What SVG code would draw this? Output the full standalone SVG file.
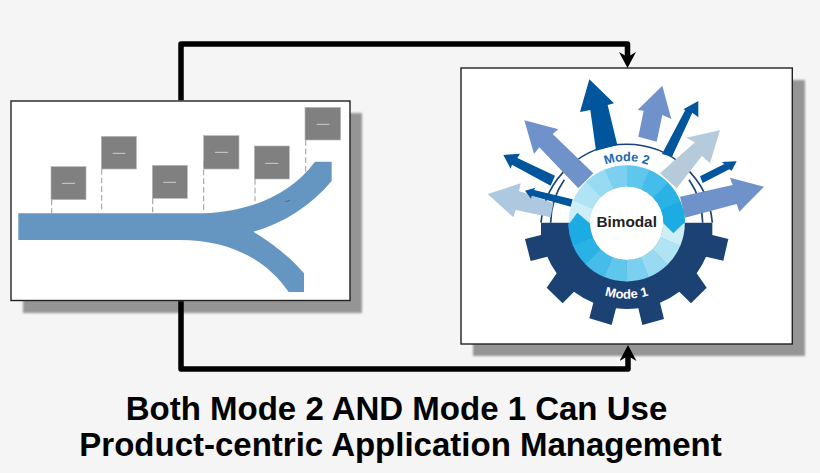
<svg xmlns="http://www.w3.org/2000/svg" width="820" height="473" viewBox="0 0 820 473">
<defs>
<style>
.panel{fill:#fff;stroke:#222;stroke-width:1.4}
.shadow{fill:#959595;filter:url(#soft)}
.flag{fill:#808080;stroke:#b8b8b8;stroke-width:2}
.stem{fill:none;stroke:#a8a8a8;stroke-width:3.5;stroke-dasharray:17 9}
.tick{stroke:#dcdcdc;stroke-width:2.500}
.conn{fill:none;stroke:#000;stroke-width:5.5;stroke-linejoin:round;stroke-linecap:butt}
.seg{fill:none;stroke-width:65;stroke-dasharray:23 337}
.d{fill:#02549c}.m{fill:#7092ca}.l{fill:#b5cbdb}.p{fill:#aec8e0}
.arc{fill:none;stroke:#1a4273;stroke-width:5}
text{font-family:"Liberation Sans",Arial,sans-serif;font-weight:700}
</style>
<filter id="soft" x="-5%" y="-5%" width="110%" height="110%"><feGaussianBlur stdDeviation="1"/></filter>
<filter id="fine" x="-2%" y="-2%" width="104%" height="104%"><feGaussianBlur stdDeviation="1.200"/></filter>
<marker id="head" markerUnits="userSpaceOnUse" viewBox="0 0 16 17" refX="5" refY="8.5" markerWidth="16" markerHeight="17" orient="auto"><polygon points="16,8.5 0,0 5,8.5 0,17" fill="#000"/></marker>
<path id="m2" d="M313 490A187 187 0 0 1 687 490"/>
<path id="m1" d="M274 490A226 226 0 0 0 726 490"/>
</defs>
<rect width="820" height="473" fill="#f5f5f5"/>
<g id="roadmap">
<rect class="shadow" x="23" y="113" width="339" height="200"/>
<rect class="panel" x="11" y="101" width="339" height="199.500"/>
<g transform="translate(0 95) scale(.33333)" filter="url(#fine)">
<path d="M55 355H610C760 350 880 290 945 200H995V258C930 335 850 385 760 410C810 440 870 485 912 535V591H866C790 480 670 435 540 435H55Z" fill="#6596c1"/>
<path d="M855 320L870 316" stroke="#3a6ea5" stroke-width="3"/>
<g id="flag1"><path class="stem" d="M155 314V355"/><rect class="flag" x="153" y="215" width="105" height="99"/><path class="tick" d="M186 265H225"/></g>
<g id="flag2"><path class="stem" d="M305 222V352"/><rect class="flag" x="304" y="124" width="105" height="98"/><path class="tick" d="M338 175H376"/></g>
<g id="flag3"><path class="stem" d="M458 310V352"/><rect class="flag" x="457" y="211" width="105" height="99"/><path class="tick" d="M490 262H528"/></g>
<g id="flag4"><path class="stem" d="M611 198V352"/><rect class="flag" x="611" y="122" width="106" height="100"/><path class="tick" d="M645 172H684"/></g>
<g id="flag5"><path class="stem" d="M765 252V318"/><rect class="flag" x="763" y="153" width="105" height="99"/><path class="tick" d="M796 205H835"/></g>
<g id="flag6"><path class="stem" d="M917 135V235"/><rect class="flag" x="915" y="37" width="107" height="98"/><path class="tick" d="M950 88H988"/></g>
</g>
</g>
<g id="bimodal">
<rect class="shadow" x="473" y="80" width="332" height="276"/>
<rect class="panel" x="461" y="68" width="331.300" height="276"/>
<g transform="translate(460 60) scale(.33333)">
<g filter="url(#fine)">
<path class="arc" d="M243 488A258 258 0 0 1 757 488"/>
<path class="arc" d="M272 488A228 228 0 0 1 313 359"/>
<path class="arc" d="M728 488A228 228 0 0 0 687 359"/>
<path fill="#1a4273" d="M243 488V525L195 537L212 603L262 590A258 258 0 0 0 290 640L260 683L308 730L342 695A258 258 0 0 0 400 728L388 775L455 795L468 745A258 258 0 0 0 535 745L547 795L612 777L600 728A258 258 0 0 0 658 695L693 730L740 683L710 640A258 258 0 0 0 738 590L790 602L805 537L757 525V488Z"/>
<polygon class="d" points="388,58 462,130 443,135 472,255 408,272 391,150 360,156"/>
<polygon class="m" points="607,77 634,177 607,165 590,245 535,230 551,152 533,150"/>
<polygon class="d" points="715,123 715,172 697,158 636,290 606,282 676,150 670,148"/>
<polygon class="l" points="780,211 750,310 726,288 650,385 600,340 705,247 678,233"/>
<polygon class="d" points="830,304 815,332 808,328 728,369 720,349 793,312 785,306"/>
<polygon class="m" points="912,380 838,455 830,432 675,473 660,410 818,375 810,353"/>
<polygon class="m" points="193,181 295,208 278,222 400,340 355,385 238,262 222,282"/>
<polygon class="d" points="130,285 180,281 172,294 285,347 272,377 156,314 152,326"/>
<polygon class="p" points="83,402 182,370 177,393 280,430 272,472 167,450 160,472"/>
<polygon class="d" points="195,392 226,383 222,390 338,418 332,440 215,407 213,416"/>
<g transform="translate(500 490)">
<circle class="seg" r="142" pathLength="360" stroke="#cdeef7" stroke-dashoffset="-180"/>
<circle class="seg" r="142" pathLength="360" stroke="#b0e3f3" stroke-dashoffset="-202.500"/>
<circle class="seg" r="142" pathLength="360" stroke="#97daf1" stroke-dashoffset="-225"/>
<circle class="seg" r="142" pathLength="360" stroke="#7bd0ef" stroke-dashoffset="-247.500"/>
<circle class="seg" r="142" pathLength="360" stroke="#5fc6ec" stroke-dashoffset="-270"/>
<circle class="seg" r="142" pathLength="360" stroke="#45bce9" stroke-dashoffset="-292.500"/>
<circle class="seg" r="142" pathLength="360" stroke="#2cb2e6" stroke-dashoffset="-315"/>
<circle class="seg" r="142" pathLength="360" stroke="#1eabe2" stroke-dashoffset="-337.500"/>
<circle class="seg" r="142" pathLength="360" stroke="#cdeef7" stroke-dashoffset="0"/>
<circle class="seg" r="142" pathLength="360" stroke="#b0e3f3" stroke-dashoffset="-22.500"/>
<circle class="seg" r="142" pathLength="360" stroke="#97daf1" stroke-dashoffset="-45"/>
<circle class="seg" r="142" pathLength="360" stroke="#7bd0ef" stroke-dashoffset="-67.500"/>
<circle class="seg" r="142" pathLength="360" stroke="#5fc6ec" stroke-dashoffset="-90"/>
<circle class="seg" r="142" pathLength="360" stroke="#45bce9" stroke-dashoffset="-112.500"/>
<circle class="seg" r="142" pathLength="360" stroke="#2cb2e6" stroke-dashoffset="-135"/>
<circle class="seg" r="142" pathLength="360" stroke="#1eabe2" stroke-dashoffset="-157.500"/>
</g>
<polygon fill="#1eabe2" points="675,486 640,520 604,484 620,450 672,450"/>
<polygon fill="#1eabe2" points="325,494 352,458 396,496 380,530 330,530"/>
<circle cx="500" cy="490" r="110" fill="#fff"/>
</g>
<text x="500" y="500" font-size="46" fill="#222" text-anchor="middle">Bimodal</text>
<text font-size="38" fill="#1c6bb0" text-anchor="middle"><textPath href="#m2" startOffset="50%">Mode 2</textPath></text>
<text font-size="39" fill="#fff" text-anchor="middle"><textPath href="#m1" startOffset="50%">Mode 1</textPath></text>
</g>
</g>
<g id="connectors">
<path class="conn" d="M181 100.300V44H627.500V57" marker-end="url(#head)"/>
<path class="conn" d="M181 301.200V369H628V356" marker-end="url(#head)"/>
</g>
<g id="caption">
<text x="396.500" y="419.500" font-size="33" fill="#000" text-anchor="middle">Both Mode 2 AND Mode 1 Can Use</text>
<text x="400.500" y="455.500" font-size="33" fill="#000" text-anchor="middle">Product-centric Application Management</text>
</g>
</svg>
